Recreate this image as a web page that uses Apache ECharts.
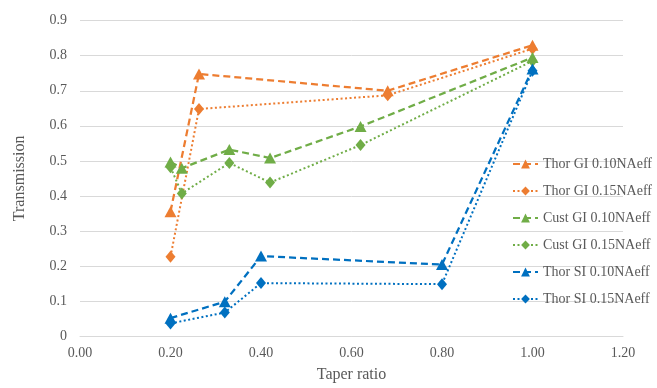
<!DOCTYPE html>
<html>
<head>
<meta charset="utf-8">
<script src="https://cdn.jsdelivr.net/npm/echarts@6/dist/echarts.min.js"></script>
<style>html,body{margin:0;padding:0;background:#fff}#c{width:657px;height:388px}</style>
</head>
<body>
<div id="c"></div>
<script>
var seriesNames = ['Thor GI 0.10NAeff','Thor GI 0.15NAeff','Cust GI 0.10NAeff','Cust GI 0.15NAeff','Thor SI 0.10NAeff','Thor SI 0.15NAeff'];
var thorGI10 = [[0.20,0.355],[0.263,0.748],[0.68,0.700],[1.00,0.830]];
var thorGI15 = [[0.20,0.226],[0.263,0.648],[0.68,0.687],[1.00,0.820]];
var custGI10 = [[0.20,0.497],[0.225,0.479],[0.33,0.532],[0.42,0.508],[0.62,0.598],[1.00,0.795]];
var custGI15 = [[0.20,0.482],[0.225,0.407],[0.33,0.494],[0.42,0.438],[0.62,0.545],[1.00,0.785]];
var thorSI10 = [[0.20,0.051],[0.32,0.098],[0.40,0.228],[0.80,0.204],[1.00,0.762]];
var thorSI15 = [[0.20,0.036],[0.32,0.067],[0.40,0.151],[0.80,0.148],[1.00,0.757]];
var xTicks = ['0.00','0.20','0.40','0.60','0.80','1.00','1.20'];
var yTicks = ['0','0.1','0.2','0.3','0.4','0.5','0.6','0.7','0.8','0.9'];

var FONT = 'Liberation Serif';
var TXT = '#595959';
var ORANGE = '#ED7D31', GREEN = '#70AD47', BLUE = '#0070C0';
var DASH = [7,4], DOT = [2,2.5];

function mk(name, data, color, dashed, symbol) {
  return {
    name: name, type: 'line', data: data,
    symbol: symbol,
    symbolSize: symbol === 'triangle' ? [12,11] : [10,12],
    showSymbol: true,
    lineStyle: {color: color, width: dashed ? 2.25 : 2, type: dashed ? DASH : DOT},
    itemStyle: {color: color, borderWidth: 0},
    emphasis: {disabled: true},
    animation: false
  };
}

var chart = echarts.init(document.getElementById('c'), null, {renderer: 'canvas'});
chart.setOption({
  backgroundColor: '#fff',
  animation: false,
  grid: {left: 80, right: 34, top: 20.7, bottom: 44.7, containLabel: false},
  xAxis: {
    type: 'value', min: 0, max: 1.2, interval: 0.2,
    name: 'Taper ratio', nameLocation: 'middle', nameGap: 31,
    nameTextStyle: {fontFamily: FONT, fontSize: 16, color: TXT},
    axisLine: {show: true, lineStyle: {color: '#d9d9d9', width: 1}},
    axisTick: {show: false},
    splitLine: {show: false},
    axisLabel: {fontFamily: FONT, fontSize: 14, color: TXT, margin: 10,
      formatter: function (v) { var i = Math.round(v / 0.2); return xTicks[i] !== undefined ? xTicks[i] : v.toFixed(2); }}
  },
  yAxis: {
    type: 'value', min: 0, max: 0.9, interval: 0.1,
    name: 'Transmission', nameLocation: 'middle', nameGap: 52,
    nameTextStyle: {fontFamily: FONT, fontSize: 16, color: TXT},
    axisLine: {show: false}, axisTick: {show: false},
    splitLine: {show: true, lineStyle: {color: '#d9d9d9', width: 1}},
    axisLabel: {fontFamily: FONT, fontSize: 14, color: TXT, margin: 13,
      formatter: function (v) { var i = Math.round(v / 0.1); return yTicks[i] !== undefined ? yTicks[i] : String(v); }}
  },
  legend: {
    orient: 'vertical', left: 507, top: 152,
    itemWidth: 25, itemHeight: 11, itemGap: 13,
    textStyle: {fontFamily: FONT, fontSize: 14, color: TXT},
    data: seriesNames
  },
  series: [
    mk(seriesNames[0], thorGI10, ORANGE, true, 'triangle'),
    mk(seriesNames[1], thorGI15, ORANGE, false, 'diamond'),
    mk(seriesNames[2], custGI10, GREEN, true, 'triangle'),
    mk(seriesNames[3], custGI15, GREEN, false, 'diamond'),
    mk(seriesNames[4], thorSI10, BLUE, true, 'triangle'),
    mk(seriesNames[5], thorSI15, BLUE, false, 'diamond')
  ]
});
</script>
</body>
</html>
